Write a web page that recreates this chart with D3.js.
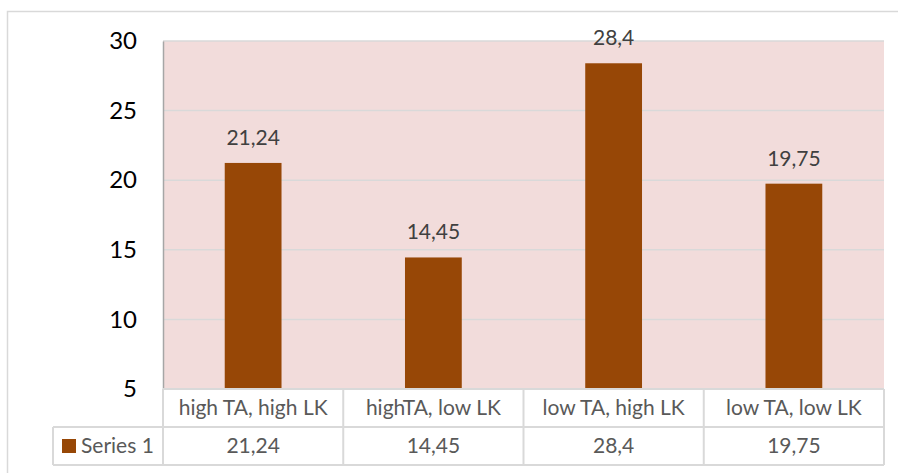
<!DOCTYPE html>
<html>
<head>
<meta charset="utf-8">
<script src="https://cdn.jsdelivr.net/npm/d3@7"></script>
<style>
  body { margin: 0; background: #fff; }
  text { font-family: Lato, "Open Sans", sans-serif; }
</style>
</head>
<body>
<div id="chart"></div>
<script>
// data
let categories = ["high TA, high LK", "highTA, low LK", "low TA, high LK", "low TA, low LK"]
let values = [21.24, 14.45, 28.4, 19.75]
let labels = ["21,24", "14,45", "28,4", "19,75"]
let seriesName = "Series 1"
let yTicks = [5, 10, 15, 20, 25, 30]

let width = 898, height = 473
let margin = { top: 41, left: 163, right: 14, bottom: 84 }
let plotW = width - margin.left - margin.right
let plotH = height - margin.top - margin.bottom

let barColor = "#974706"
let gridColor = "#d9d9d9"

let svg = d3.select("#chart")
    .append("svg")
    .attr("width", width)
    .attr("height", height)

// outer border
svg.append("rect")
    .attr("x", 7.5).attr("y", 11.5)
    .attr("width", 900).attr("height", 470)
    .attr("fill", "none")
    .attr("stroke", gridColor)
    .attr("stroke-width", 1.5)

let g = svg.append("g")
    .attr("transform", `translate(${margin.left},${margin.top})`)

let x = d3.scaleBand()
    .domain(categories)
    .range([0, plotW])
    .paddingInner(0.685)
    .paddingOuter(0.3425)

let y = d3.scaleLinear()
    .domain([5, 30])
    .range([plotH, 0])

// plot background
g.append("rect")
    .attr("width", plotW)
    .attr("height", plotH)
    .attr("fill", "#f2dcdb")

// gridlines
g.append("g")
    .selectAll("line")
    .data(yTicks.filter(d => d > 5))
    .enter().append("line")
    .attr("x1", 0).attr("x2", plotW)
    .attr("y1", d => y(d)).attr("y2", d => y(d))
    .attr("stroke", gridColor)
    .attr("stroke-width", 1.5)

// y axis
let yAxis = g.append("g")
    .call(d3.axisLeft(y).tickValues(yTicks).tickSize(0).tickPadding(26))
yAxis.select(".domain").attr("stroke", "#a6a6a6").attr("stroke-width", 1.5)
yAxis.selectAll("text")
    .attr("font-size", 24)
    .attr("fill", "#000")
    .style("font-family", "Lato, sans-serif")

// bars
g.selectAll(".bar")
    .data(values)
    .enter().append("rect")
    .attr("class", "bar")
    .attr("x", (d, i) => x(categories[i]))
    .attr("y", d => y(d))
    .attr("width", x.bandwidth())
    .attr("height", d => plotH - y(d))
    .attr("fill", barColor)

// data labels
g.selectAll(".lbl")
    .data(values)
    .enter().append("text")
    .attr("class", "lbl")
    .attr("x", (d, i) => x(categories[i]) + x.bandwidth() / 2)
    .attr("y", d => y(d) - 18)
    .attr("text-anchor", "middle")
    .attr("font-size", 21)
    .attr("fill", "#404040")
    .text((d, i) => labels[i])

// data table
let rowH = 38
let step = plotW / categories.length
let table = g.append("g").attr("transform", `translate(0,${plotH})`)
let tableColor = "#d9d9d9"

// horizontal lines
table.append("line").attr("x1", 0).attr("x2", plotW).attr("y1", 0).attr("y2", 0)
table.append("line").attr("x1", -110).attr("x2", plotW).attr("y1", rowH).attr("y2", rowH)
table.append("line").attr("x1", -110).attr("x2", plotW).attr("y1", rowH * 2).attr("y2", rowH * 2)
// vertical lines
table.append("line").attr("x1", -110).attr("x2", -110).attr("y1", rowH).attr("y2", rowH * 2)
table.selectAll(".vl")
    .data(d3.range(categories.length + 1))
    .enter().append("line")
    .attr("class", "vl")
    .attr("x1", i => i * step).attr("x2", i => i * step)
    .attr("y1", 0).attr("y2", rowH * 2)
table.selectAll("line")
    .attr("stroke", tableColor)
    .attr("stroke-width", 2)

table.selectAll(".cat")
    .data(categories)
    .enter().append("text")
    .attr("class", "cat")
    .attr("x", (d, i) => i * step + step / 2)
    .attr("y", rowH / 2 + 7)
    .attr("text-anchor", "middle")
    .attr("font-size", 21)
    .attr("fill", "#595959")
    .text(d => d)

table.selectAll(".val")
    .data(labels)
    .enter().append("text")
    .attr("class", "val")
    .attr("x", (d, i) => i * step + step / 2)
    .attr("y", rowH * 1.5 + 7)
    .attr("text-anchor", "middle")
    .attr("font-size", 21)
    .attr("fill", "#595959")
    .text(d => d)

// legend key
table.append("rect")
    .attr("x", -101).attr("y", rowH * 1.5 - 7)
    .attr("width", 14).attr("height", 14)
    .attr("fill", barColor)
table.append("text")
    .attr("x", -82).attr("y", rowH * 1.5 + 7)
    .attr("font-size", 21)
    .attr("fill", "#595959")
    .text(seriesName)
</script>
</body>
</html>
